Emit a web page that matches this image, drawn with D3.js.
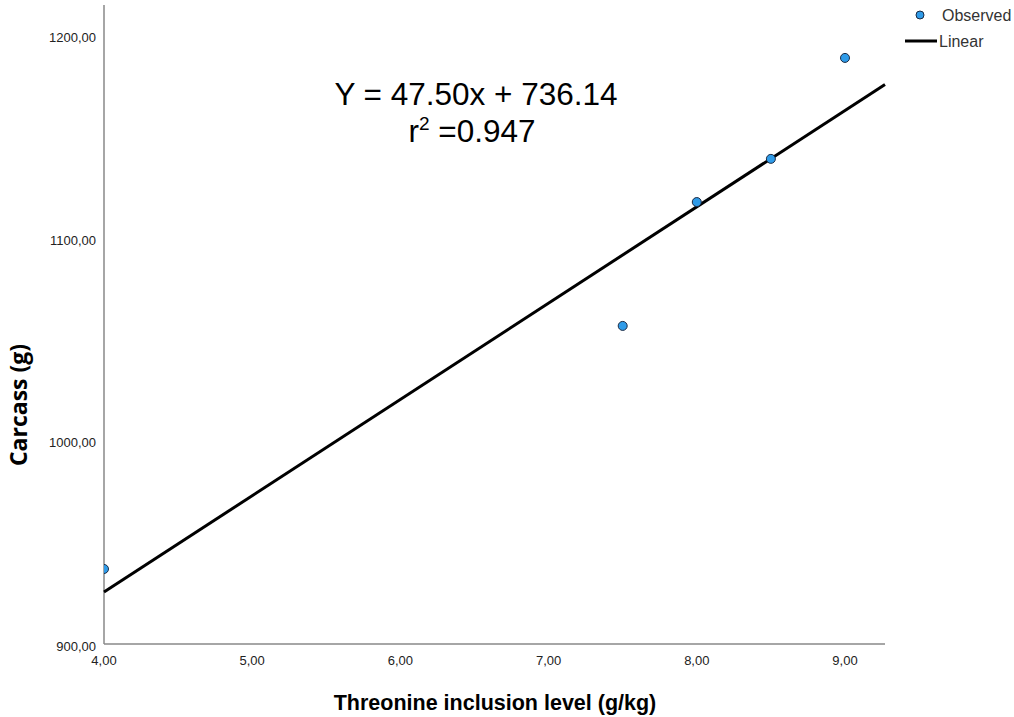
<!DOCTYPE html>
<html>
<head>
<meta charset="utf-8">
<script src="https://cdn.jsdelivr.net/npm/d3@7"></script>
<style>
body { margin: 0; background: #fff; }
</style>
</head>
<body>
<div class="chart"></div>
<script>
var threonine = [4.0, 7.5, 8.0, 8.5, 9.0];
var carcass = [937.5, 1057.4, 1118.5, 1139.8, 1189.6];
var xTicks = [4, 5, 6, 7, 8, 9];
var yTicks = [900, 1000, 1100, 1200];
var slope = 47.50, intercept = 736.14;

var width = 1014, height = 717;
var margin = {top: 5, right: 129, bottom: 73, left: 104};

var svg = d3.select(".chart")
    .append("svg")
    .attr("width", width)
    .attr("height", height);

var x = d3.scaleLinear().domain([4, 9.27]).range([margin.left, width - margin.right]);
var y = d3.scaleLinear().domain([900, 1215.7]).range([height - margin.bottom + 1, margin.top]);

var fmt = function(d) { return d3.format(".2f")(d).replace(".", ","); };
var sans = "Liberation Sans, Arial, sans-serif";

// plot area clip (points on the axis are cut in half)
svg.append("clipPath").attr("id", "plot")
  .append("rect")
    .attr("x", x(4)).attr("y", 0)
    .attr("width", x(9.27) - x(4) + 10)
    .attr("height", y(900));

// x axis
svg.append("line")
    .attr("x1", x(4)).attr("x2", x(9.27))
    .attr("y1", y(900) - 1).attr("y2", y(900) - 1)
    .attr("stroke", "#888").attr("stroke-width", 1.5);

svg.selectAll(".xt")
    .data(xTicks)
    .enter().append("text")
    .attr("x", d => x(d))
    .attr("y", y(900) + 20)
    .attr("text-anchor", "middle")
    .attr("font-family", sans)
    .attr("font-size", 13)
    .attr("fill", "#222")
    .text(fmt);

// y axis
svg.append("line")
    .attr("x1", x(4)).attr("x2", x(4))
    .attr("y1", y(1215.7)).attr("y2", y(900) - 1)
    .attr("stroke", "#888").attr("stroke-width", 1.5);

svg.selectAll(".yt")
    .data(yTicks)
    .enter().append("text")
    .attr("x", x(4) - 8)
    .attr("y", d => y(d) + (d === 900 ? 6 : 5))
    .attr("text-anchor", "end")
    .attr("font-family", sans)
    .attr("font-size", 13)
    .attr("fill", "#222")
    .text(fmt);

// regression line
svg.append("line")
    .attr("x1", x(4)).attr("y1", y(slope * 4 + intercept))
    .attr("x2", x(9.27)).attr("y2", y(slope * 9.27 + intercept))
    .attr("stroke", "#000").attr("stroke-width", 3);

// observed points
svg.append("g").attr("clip-path", "url(#plot)")
  .selectAll(".pt")
    .data(threonine)
    .enter().append("circle")
    .attr("cx", d => x(d))
    .attr("cy", (d, i) => y(carcass[i]))
    .attr("r", 4.5)
    .attr("fill", "#2f9be8")
    .attr("stroke", "#1a2a44")
    .attr("stroke-width", 1);

// equation
svg.append("text")
    .attr("x", 476).attr("y", 105)
    .attr("text-anchor", "middle")
    .attr("font-family", sans)
    .attr("font-size", 31.5)
    .text("Y = 47.50x + 736.14");

var r2 = svg.append("text")
    .attr("x", 472).attr("y", 142)
    .attr("text-anchor", "middle")
    .attr("font-family", sans)
    .attr("font-size", 31.5);
r2.append("tspan").text("r");
r2.append("tspan").attr("font-size", 19).attr("dy", -12).text("2");
r2.append("tspan").attr("dy", 12).text(" =0.947");

// axis titles
svg.append("text")
    .attr("transform", "translate(27,405) rotate(-90)")
    .attr("text-anchor", "middle")
    .attr("font-family", "Open Sans, Liberation Sans, sans-serif")
    .attr("font-weight", "bold")
    .attr("font-size", 23)
    .text("Carcass (g)");

svg.append("text")
    .attr("x", 495).attr("y", 710)
    .attr("text-anchor", "middle")
    .attr("font-family", sans)
    .attr("font-weight", "bold")
    .attr("font-size", 21.5)
    .text("Threonine inclusion level (g/kg)");

// legend
svg.append("circle")
    .attr("cx", 920).attr("cy", 15).attr("r", 4)
    .attr("fill", "#2f9be8").attr("stroke", "#1a2a44");
svg.append("text")
    .attr("x", 942).attr("y", 21)
    .attr("font-family", sans).attr("font-size", 16).attr("fill", "#333")
    .text("Observed");
svg.append("line")
    .attr("x1", 905).attr("x2", 937).attr("y1", 41).attr("y2", 41)
    .attr("stroke", "#000").attr("stroke-width", 3);
svg.append("text")
    .attr("x", 939).attr("y", 47)
    .attr("font-family", sans).attr("font-size", 16).attr("fill", "#333")
    .text("Linear");
</script>
</body>
</html>
